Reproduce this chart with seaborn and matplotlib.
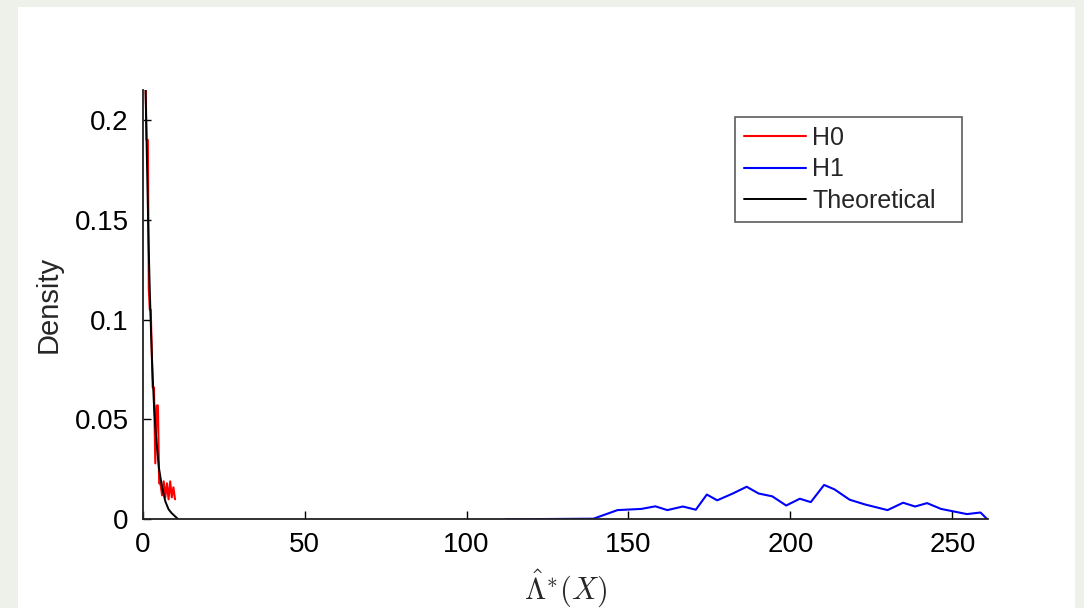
import matplotlib
matplotlib.use("Agg")
import matplotlib.pyplot as plt
import matplotlib.patches as mpatches
import pandas as pd
import seaborn as sns

# values
h0_x = [0.8, 1.2, 1.6, 1.9, 2.2, 2.5, 2.8, 3.1, 3.5, 3.9, 4.3, 4.7, 5.1,
        5.5, 6.0, 6.5, 7.0, 7.5, 8.0, 8.5, 9.0, 9.5, 10.0]
h0_y = [0.23, 0.19, 0.19, 0.115, 0.105, 0.105, 0.085, 0.066, 0.066, 0.028,
        0.057, 0.057, 0.018, 0.018, 0.012, 0.019, 0.011, 0.018, 0.010,
        0.019, 0.011, 0.016, 0.010]

h1_x = [112.1, 139.2, 146.6, 154.0, 158.3, 162.0, 166.8, 170.8, 174.2,
        177.4, 182.2, 186.5, 190.2, 194.4, 198.7, 202.9, 206.3, 210.4,
        213.6, 218.3, 223.1, 230.0, 234.8, 238.5, 242.2, 246.5, 250.2,
        254.5, 258.7, 260.8]
h1_y = [0.0, 0.0003, 0.0046, 0.0052, 0.0065, 0.0046, 0.0064, 0.0048,
        0.0124, 0.0095, 0.0129, 0.0163, 0.0129, 0.0115, 0.0069, 0.0103,
        0.0086, 0.0172, 0.015, 0.0098, 0.0074, 0.0046, 0.0083, 0.0064,
        0.0081, 0.0052, 0.004, 0.0026, 0.0034, 0.0]

theo_x = [0.9, 1.2, 1.5, 1.8, 2.2, 2.6, 3.0, 3.5, 4.0, 5.0, 6.0, 7.0, 8.0,
          9.0, 10.0, 11.0]
theo_y = [0.215, 0.19, 0.165, 0.14, 0.115, 0.093, 0.075, 0.057, 0.044,
          0.026, 0.016, 0.009, 0.005, 0.003, 0.0015, 0.0]

xticks = [0, 50, 100, 150, 200, 250]
yticks = [0, 0.05, 0.1, 0.15, 0.2]
ytick_labels = ["0", "0.05", "0.1", "0.15", "0.2"]

sns.set_theme(style="white")
plt.rcParams["font.family"] = ["Liberation Sans", "DejaVu Sans"]
plt.rcParams["mathtext.fontset"] = "cm"

fig = plt.figure(figsize=(10.84, 6.08), dpi=100)
fig.patch.set_facecolor("#eef1ea")
# white slide panel behind the chart
fig.patches.append(mpatches.Rectangle((0.0166, 0.0), 0.975, 0.9885,
                                      transform=fig.transFigure,
                                      facecolor="white", edgecolor="none",
                                      zorder=-10))
ax = fig.add_axes([0.1316, 0.1459, 0.7798, 0.7061])
ax.set_facecolor("white")

h0 = pd.DataFrame({"x": h0_x, "y": h0_y})
h1 = pd.DataFrame({"x": h1_x, "y": h1_y})
theo = pd.DataFrame({"x": theo_x, "y": theo_y})

sns.lineplot(data=h0, x="x", y="y", ax=ax, color="#ff0000", lw=1.5,
             label="H0", sort=False)
sns.lineplot(data=h1, x="x", y="y", ax=ax, color="#0000ff", lw=1.5,
             label="H1", sort=False)
sns.lineplot(data=theo, x="x", y="y", ax=ax, color="black", lw=1.4,
             label="Theoretical", sort=False)

ax.set_xlim(0, 261)
ax.set_ylim(0, 0.215)
ax.set_xticks(xticks)
ax.set_yticks(yticks)
ax.set_yticklabels(ytick_labels)
ax.tick_params(direction="in", length=6, width=1.0, labelsize=20,
               colors="black", bottom=True, left=True)
ax.tick_params(axis="y", pad=10)
ax.tick_params(axis="x", pad=9)
for s in ["top", "right"]:
    ax.spines[s].set_visible(False)
for s in ["left", "bottom"]:
    ax.spines[s].set_color("#222222")
    ax.spines[s].set_linewidth(1.3)

ax.set_xlabel(r"$\hat{\Lambda}^{*}(X)$", fontsize=22, labelpad=7)
ax.set_ylabel("Density", fontsize=21, labelpad=9)

# matlab-style legend box, a bit wider than its text
leg = ax.legend(loc="upper left", bbox_to_anchor=(0.7007, 0.5, 0.2683, 0.437),
                mode="expand", borderaxespad=0, fancybox=False, frameon=True,
                fontsize=18, handlelength=2.5, handletextpad=0.25,
                labelspacing=0.3, borderpad=0.35)
leg.get_frame().set_edgecolor("#333333")
leg.get_frame().set_linewidth(1.2)

fig.savefig("out.png", dpi=100, facecolor=fig.get_facecolor())
